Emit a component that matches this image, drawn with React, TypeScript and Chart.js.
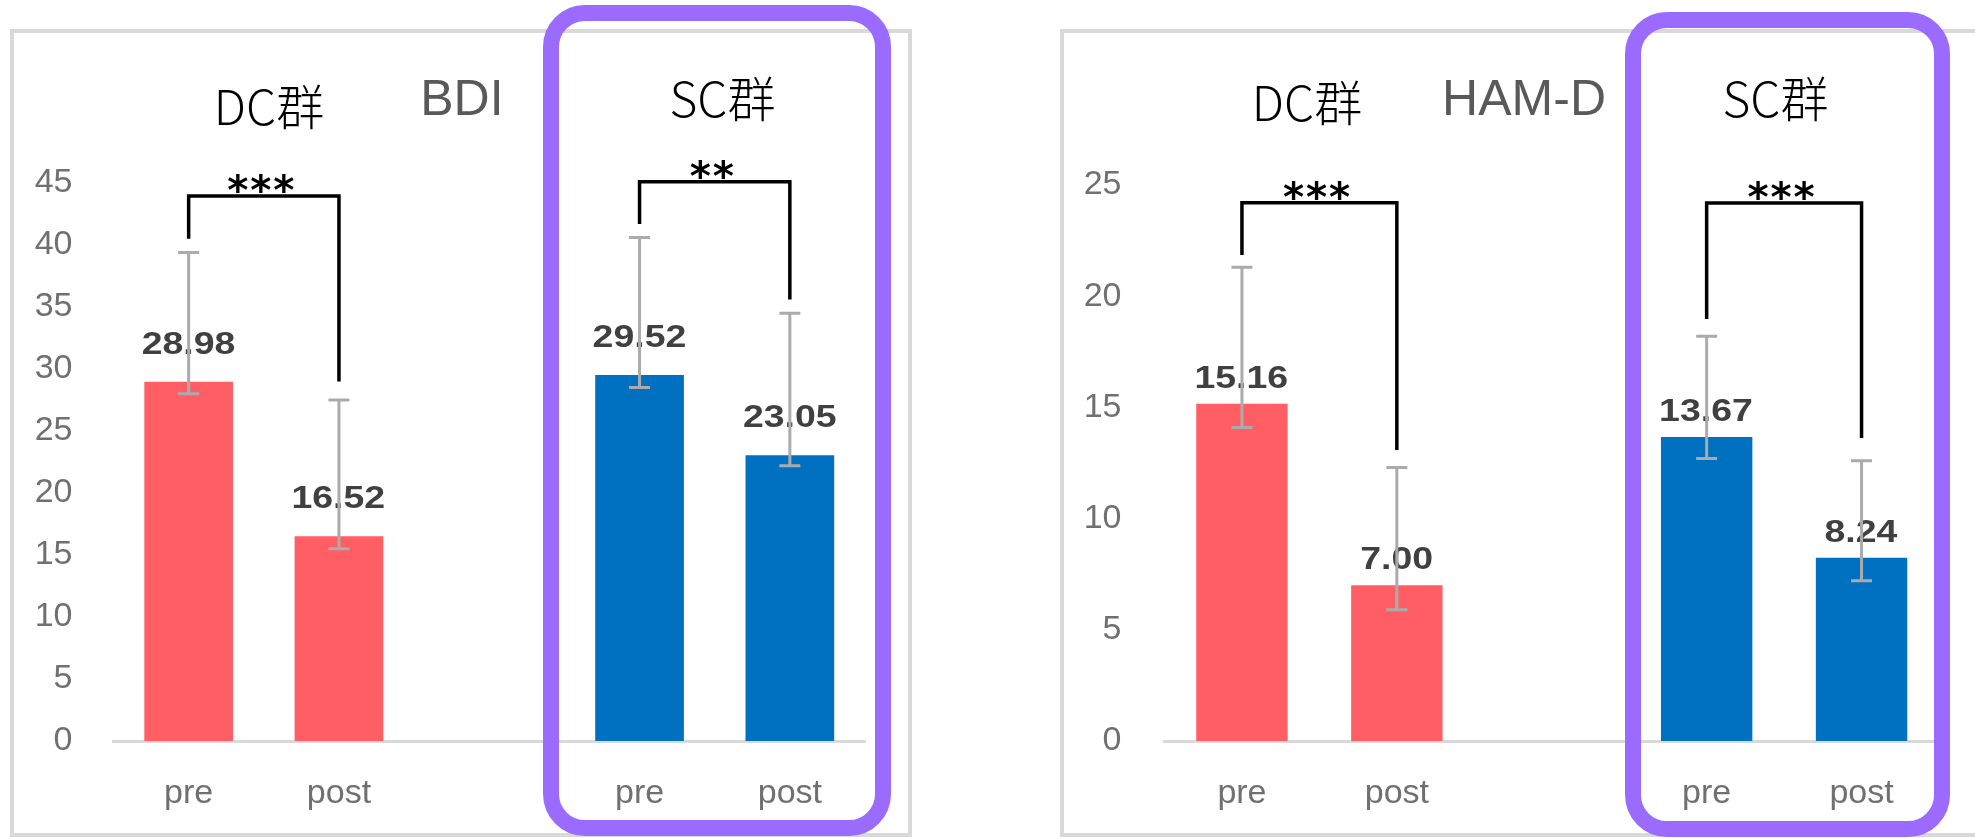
import React, { useEffect, useRef } from 'react';
import { Chart, registerables } from 'chart.js';

Chart.register(...registerables);

// ---------- data ----------
const categories = ['pre', 'post', '', 'pre', 'post'];
const barColors = ['#FF5F64', '#FF5F64', '#FFFFFF', '#0070C0', '#0070C0'];

const bdiValues = [28.98, 16.52, null, 29.52, 23.05];
const bdiErrHigh = [39.4, 27.5, null, 40.6, 34.5];
const bdiErrLow = [28.0, 15.5, null, 28.5, 22.2];

const hamdValues = [15.16, 7.0, null, 13.67, 8.24];
const hamdErrHigh = [21.3, 12.3, null, 18.2, 12.6];
const hamdErrLow = [14.1, 5.9, null, 12.7, 7.2];

const bdiTitle = 'BDI';
const hamdTitle = 'HAM-D';
const groupLabels = ['DC群', 'SC群'];

const bdiMax = 45;
const hamdMax = 25;
const tickStep = 5;

// significance brackets (values in axis units)
const bdiBrackets = [
  { from: 0, to: 1, leftEnd: 40.5, top: 43.95, rightEnd: 29.0, mark: '***' },
  { from: 3, to: 4, leftEnd: 41.7, top: 45.1, rightEnd: 35.6, mark: '**' },
];
const hamdBrackets = [
  { from: 0, to: 1, leftEnd: 21.85, top: 24.2, rightEnd: 13.08, mark: '***' },
  { from: 3, to: 4, leftEnd: 18.97, top: 24.19, rightEnd: 13.62, mark: '***' },
];

// ---------- helpers ----------
function inkText(ctx: CanvasRenderingContext2D, text: string, cx: number, cy: number, font: string, color: string, sx = 1) {
  ctx.save();
  ctx.font = font;
  ctx.fillStyle = color;
  ctx.textAlign = 'left';
  ctx.textBaseline = 'alphabetic';
  const m = ctx.measureText(text);
  const left = -m.actualBoundingBoxLeft;
  const right = m.actualBoundingBoxRight;
  const top = -m.actualBoundingBoxAscent;
  const bottom = m.actualBoundingBoxDescent;
  const icx = (left + right) / 2;
  const icy = (top + bottom) / 2;
  ctx.translate(cx, cy);
  ctx.scale(sx, 1);
  ctx.fillText(text, -icx, -icy);
  ctx.restore();
}

function drawStars(ctx: CanvasRenderingContext2D, mark: string, cx: number, cy: number) {
  const family = '"DejaVu Sans"';
  ctx.save();
  ctx.font = `bold 100px ${family}`;
  const m = ctx.measureText('*');
  const h100 = m.actualBoundingBoxAscent + m.actualBoundingBoxDescent;
  const size = (19 / h100) * 100;
  ctx.restore();
  const spacing = 23;
  const n = mark.length;
  for (let i = 0; i < n; i++) {
    const x = cx + (i - (n - 1) / 2) * spacing;
    inkText(ctx, '*', x, cy, `bold ${size}px ${family}`, '#000000');
  }
}

type Panel = {
  values: (number | null)[];
  errHigh: (number | null)[];
  errLow: (number | null)[];
  max: number;
  brackets: { from: number; to: number; leftEnd: number; top: number; rightEnd: number; mark: string }[];
  title: string;
  titlePos: [number, number];
  groupPos: [number, number][];
  width: number;
  axisW: number;
  padRight: number;
  top: number;
  bottom: number;
  tickPad: number;
  labelOffset: number;
};

function overlayPlugin(p: Panel) {
  return {
    id: 'overlay',
    afterDatasetsDraw(chart: any) {
      const ctx: CanvasRenderingContext2D = chart.ctx;
      const meta = chart.getDatasetMeta(0);
      const ys = chart.scales.y;
      // data labels
      p.values.forEach((v, i) => {
        if (v == null) return;
        const bar = meta.data[i];
        inkText(ctx, v.toFixed(2), bar.x, bar.y - p.labelOffset, 'bold 32px "Liberation Sans"', '#404040', 1.17);
      });
      // error bars
      ctx.save();
      ctx.strokeStyle = '#ABABAB';
      ctx.lineWidth = 3;
      p.values.forEach((v, i) => {
        if (v == null) return;
        const x = meta.data[i].x;
        const yh = ys.getPixelForValue(p.errHigh[i] as number);
        const yl = ys.getPixelForValue(p.errLow[i] as number);
        ctx.beginPath();
        ctx.moveTo(x, yh);
        ctx.lineTo(x, yl);
        ctx.moveTo(x - 10.5, yh);
        ctx.lineTo(x + 10.5, yh);
        ctx.moveTo(x - 10.5, yl);
        ctx.lineTo(x + 10.5, yl);
        ctx.stroke();
      });
      ctx.restore();
      // brackets
      ctx.save();
      ctx.strokeStyle = '#000000';
      ctx.lineWidth = 3.5;
      ctx.lineJoin = 'miter';
      p.brackets.forEach((b) => {
        const x1 = meta.data[b.from].x;
        const x2 = meta.data[b.to].x;
        const yt = ys.getPixelForValue(b.top);
        ctx.beginPath();
        ctx.moveTo(x1, ys.getPixelForValue(b.leftEnd));
        ctx.lineTo(x1, yt);
        ctx.lineTo(x2, yt);
        ctx.lineTo(x2, ys.getPixelForValue(b.rightEnd));
        ctx.stroke();
        drawStars(ctx, b.mark, (x1 + x2) / 2 - 3, yt - 13);
      });
      ctx.restore();
      // titles
      inkText(ctx, p.title, p.titlePos[0], p.titlePos[1], '50px "Liberation Sans"', '#595959');
      groupLabels.forEach((g, i) => {
        inkText(ctx, g, p.groupPos[i][0], p.groupPos[i][1], '300 48px "Noto Sans CJK JP"', '#000000');
      });
    },
  };
}

function makeChart(canvas: HTMLCanvasElement, p: Panel) {
  return new Chart(canvas, {
    type: 'bar',
    data: {
      labels: categories,
      datasets: [
        {
          data: p.values as any,
          backgroundColor: barColors,
          borderWidth: 0,
          barPercentage: 0.59,
          categoryPercentage: 1,
        },
      ],
    },
    options: {
      animation: false,
      responsive: false,
      maintainAspectRatio: false,
      devicePixelRatio: 1,
      layout: { padding: { left: 0, top: p.top, right: p.padRight, bottom: 0 } },
      plugins: { legend: { display: false }, tooltip: { enabled: false }, title: { display: false } },
      scales: {
        x: {
          grid: { display: false },
          border: { display: true, color: '#D9D9D9', width: 3 },
          ticks: { color: '#707070', font: { family: '"Liberation Sans"', size: 34 }, padding: 24, maxRotation: 0 },
          afterFit: (s: any) => {
            s.height = 838 - p.bottom;
          },
        },
        y: {
          min: 0,
          max: p.max,
          ticks: { stepSize: tickStep, color: '#707070', font: { family: '"Liberation Sans"', size: 34 }, padding: p.tickPad },
          grid: { display: false },
          border: { display: false },
          afterFit: (s: any) => {
            s.width = p.axisW;
          },
        },
      },
    } as any,
    plugins: [overlayPlugin(p) as any],
  });
}

const leftPanel: Panel = {
  values: bdiValues,
  errHigh: bdiErrHigh,
  errLow: bdiErrLow,
  max: bdiMax,
  brackets: bdiBrackets,
  title: bdiTitle,
  titlePos: [462, 97],
  groupPos: [
    [271, 106.5],
    [723, 99],
  ],
  width: 990,
  axisW: 113.5,
  padRight: 125,
  top: 183,
  bottom: 741,
  tickPad: 33,
  labelOffset: 39,
};

const rightPanel: Panel = {
  values: hamdValues,
  errHigh: hamdErrHigh,
  errLow: hamdErrLow,
  max: hamdMax,
  brackets: hamdBrackets,
  title: hamdTitle,
  titlePos: [535, 97],
  groupPos: [
    [319, 103],
    [786, 99],
  ],
  width: 985,
  axisW: 174.5,
  padRight: 36,
  top: 185,
  bottom: 741,
  tickPad: 35,
  labelOffset: 27,
};

export default function App() {
  const leftRef = useRef<HTMLCanvasElement>(null);
  const rightRef = useRef<HTMLCanvasElement>(null);

  useEffect(() => {
    document.body.style.margin = '0';
    const c1 = makeChart(leftRef.current as HTMLCanvasElement, leftPanel);
    const c2 = makeChart(rightRef.current as HTMLCanvasElement, rightPanel);
    return () => {
      c1.destroy();
      c2.destroy();
    };
  }, []);

  const purple = '#9B6BFF';
  return (
    <div style={{ position: 'fixed', left: 0, top: 0, width: 1975, height: 838, background: '#ffffff', overflow: 'hidden' }}>
      <div style={{ position: 'absolute', left: 10, top: 29, width: 902, height: 808, border: '4px solid #D9D9D9', boxSizing: 'border-box' }} />
      <div style={{ position: 'absolute', left: 1060, top: 29, width: 1000, height: 808, border: '4px solid #D9D9D9', boxSizing: 'border-box' }} />
      <canvas ref={leftRef} width={990} height={838} style={{ position: 'absolute', left: 0, top: 0, width: 990, height: 838 }} />
      <canvas ref={rightRef} width={985} height={838} style={{ position: 'absolute', left: 990, top: 0, width: 985, height: 838 }} />
      <div style={{ position: 'absolute', left: 543, top: 5, width: 348, height: 831, border: `16px solid ${purple}`, borderRadius: 42, boxSizing: 'border-box' }} />
      <div style={{ position: 'absolute', left: 1625, top: 12, width: 325, height: 825, border: `16px solid ${purple}`, borderRadius: 42, boxSizing: 'border-box' }} />
    </div>
  );
}
